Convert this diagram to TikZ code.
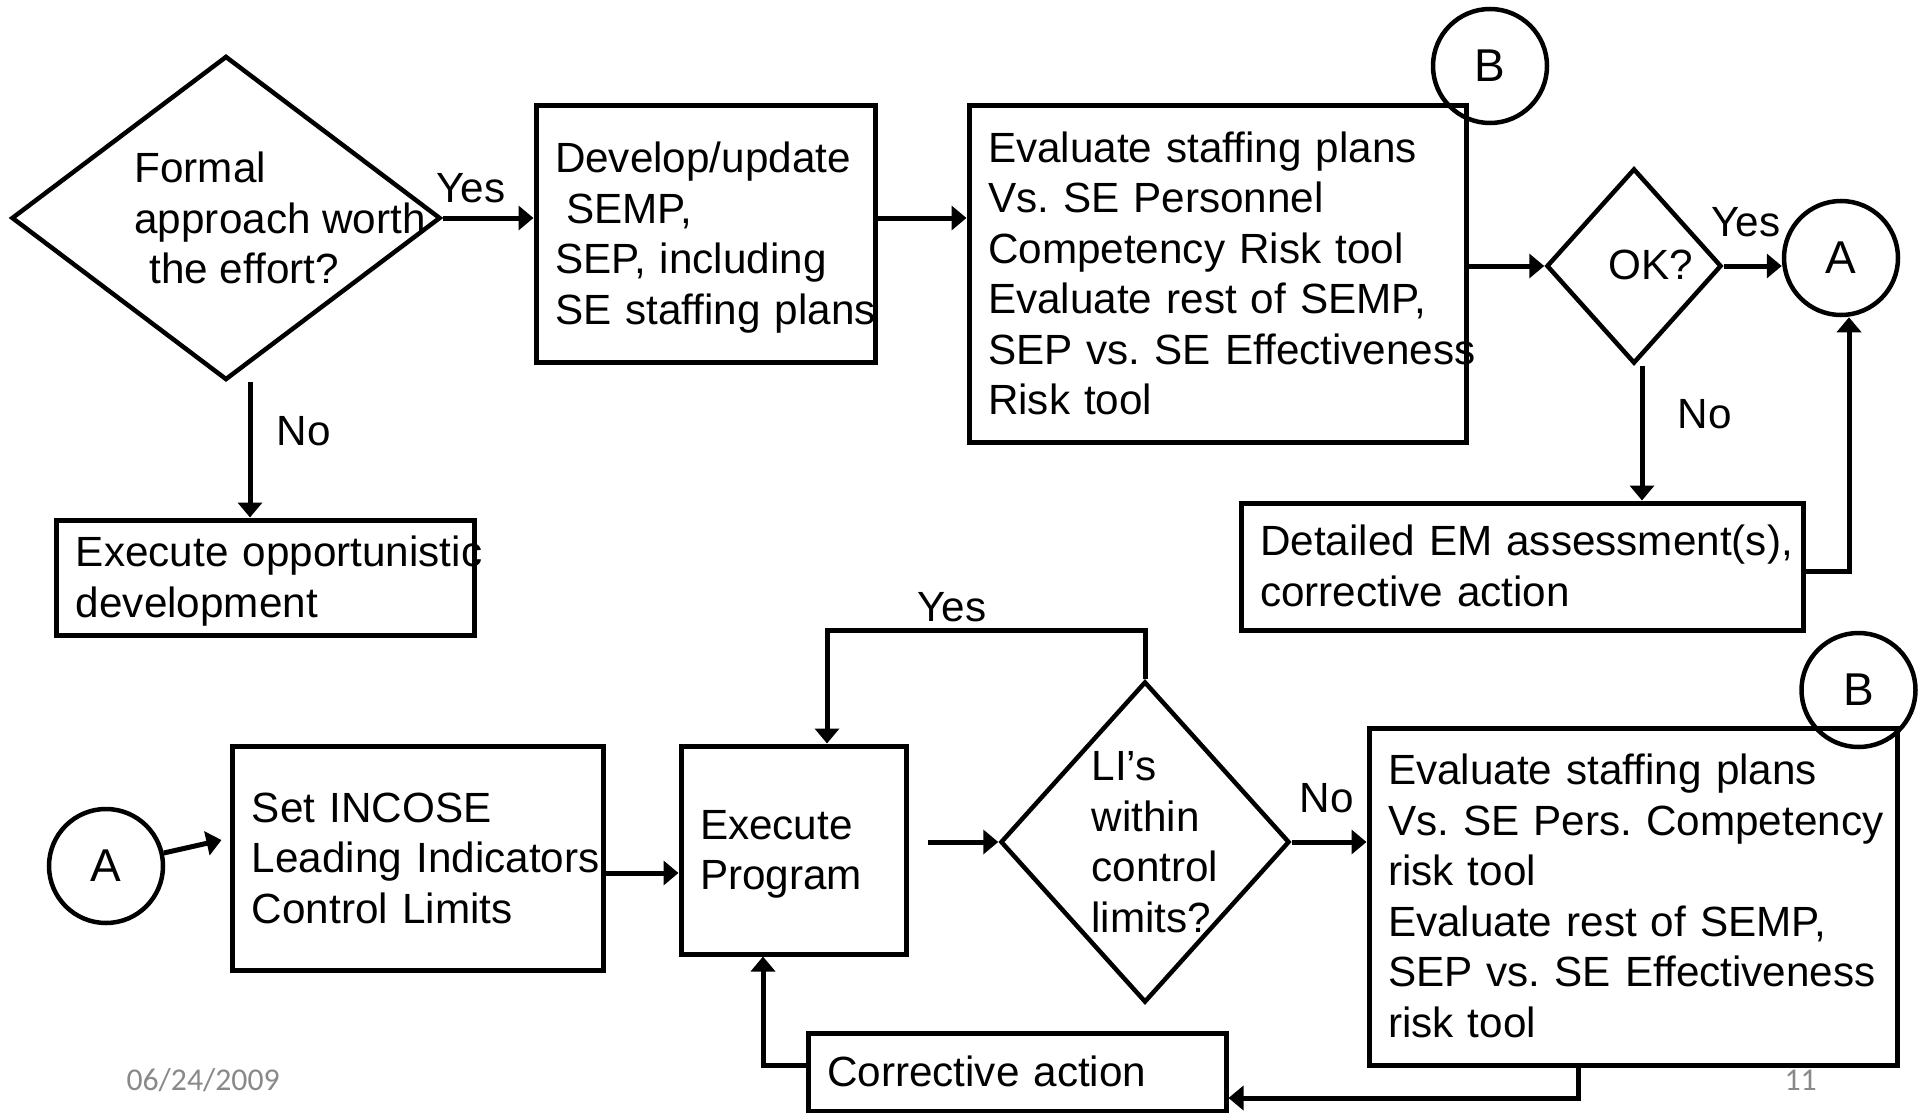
\documentclass[tikz,border=0pt]{standalone}
\usepackage{fontspec}
\setmainfont{Liberation Sans}
\newfontfamily\slidefont{Carlito}
\usetikzlibrary{shapes.geometric,arrows.meta}
\definecolor{footgray}{RGB}{137,137,137}
\frenchspacing
\begin{document}
\begin{tikzpicture}[x=0.4pt,y=-0.4pt,>={Triangle[length=6pt,width=9.6pt]},
  every node/.style={font=\fontsize{16.9pt}{20.2pt}\selectfont},
  box/.style={draw,line width=2pt,inner xsep=7.6pt,inner ysep=0pt,align=left,
    execute at begin node={\hyphenpenalty=10000\exhyphenpenalty=10000\noindent\rule{0pt}{0.905em}},
    execute at end node={\rule[-0.212em]{0pt}{0pt}}},
  decision/.style={diamond,draw,line width=1.8pt,inner sep=0pt},
  conn/.style={circle,draw,line width=1.8pt,inner sep=0pt,minimum size=45.6pt,font=\fontsize{18.4pt}{22pt}\selectfont},
  qtext/.style={inner sep=0pt,align=left,anchor=west},
  lbl/.style={inner sep=0pt,anchor=base west},
  foot/.style={inner sep=0pt,anchor=base west,text=footgray,font=\slidefont\fontsize{12.7pt}{15pt}\selectfont},
  flow/.style={line width=2pt}]
\useasboundingbox (0,0) rectangle (1921,1113);
% top row
\node[decision,minimum width=171.6pt,minimum height=129.6pt] (formal) at (226,218) {};
\node[qtext] (formaltxt) at (134,218) {Formal\\approach worth\\\hspace*{6pt}the effort?};
\node[box,text width=120.4pt,minimum height=102.4pt] (semp) at (705.5,234) {Develop/update\\\hspace*{4.4pt}SEMP,\\SEP, including\\SE~staffing~plans};
\node[box,text width=183.6pt,minimum height=134.4pt] (evalA) at (1217.5,274) {Evaluate staffing plans\\Vs. SE Personnel\\Competency Risk tool\\Evaluate rest of SEMP,\\SEP~vs.~SE~Effectiveness\\Risk tool};
\node[decision,minimum width=70pt,minimum height=78pt] (okq) at (1634,266) {};
\node[qtext] (oktxt) at (1608,265) {OK?};
\node[conn] (circA1) at (1841,258) {A};
\node[conn] (circB1) at (1490,66) {B};
\node[box,text width=209.6pt,minimum height=50.8pt] (em) at (1522,566.5) {Detailed~EM~assessment(s),\\corrective action};
\node[box,text width=151.6pt,minimum height=46pt] (opp) at (265.5,577.5) {Execute~opportunistic\\development};
\draw[flow,->] (formal.east) -- (formal.east -| semp.west);
\node[lbl] (yes1) at (436,202) {Yes};
\draw[flow,->] ([xshift=9.6pt]formal.south) -- ([xshift=9.6pt]formal.south |- opp.north);
\node[lbl] (no1) at (276,445) {No};
\draw[flow,->] (semp.east |- formal.east) -- (evalA.west |- formal.east);
\draw[flow,->] (evalA.east |- okq.west) -- (okq.west);
\draw[flow,->] (okq.east) -- (okq.east -| circA1.west);
\node[lbl] (yes2) at (1711,236) {Yes};
\draw[flow,->] ([xshift=3.2pt]okq.south) -- ([xshift=3.2pt]okq.south |- em.north);
\node[lbl] (no2) at (1677,428) {No};
\draw[flow,->] ([yshift=-1.8pt]em.east) -| ([xshift=3.2pt]circA1.south);
% bottom row
\node[conn] (circA2) at (106,866) {A};
\node[box,text width=132.8pt,minimum height=89.6pt] (incose) at (418,858) {Set INCOSE\\Leading~Indicators\\Control Limits};
\node[box,text width=74.8pt,minimum height=83.2pt] (exec) at (793.5,850) {Execute\\Program};
\node[decision,minimum width=115.6pt,minimum height=128.4pt] (li) at (1145,842) {};
\node[qtext] (litxt) at (1091,842) {LI's\\within\\control\\limits?};
\node[box,text width=196pt,minimum height=134.8pt] (evalB) at (1633,896.5) {Evaluate staffing plans\\Vs.~SE~Pers.~Competency\\risk tool\\Evaluate rest of SEMP,\\SEP~vs.~SE~Effectiveness\\risk tool};
\node[conn] (circB2) at (1858.5,690) {B};
\node[box,text width=152pt,minimum height=31.2pt] (corr) at (1017,1072) {Corrective action};
\draw[flow,->] (circA2) -- ([xshift=-3.6pt,yshift=7.2pt]incose.west);
\draw[flow,->] ([yshift=-6pt]incose.east) -- ([yshift=-6pt]incose.east -| exec.west);
\draw[flow,->] ([xshift=7.6pt]exec.east |- li.west) -- (li.west);
\draw[flow,->] (li.north) -- ++(0,-49) -| ([xshift=13.4pt]exec.north);
\node[lbl] (yes3) at (917,621) {Yes};
\draw[flow,->] (li.east) -- (li.east -| evalB.west);
\node[lbl] (no3) at (1299,812) {No};
\draw[flow,->] ([xshift=-22pt]evalB.south) |- ([yshift=-10.4pt]corr.east);
\draw[flow,->] ([yshift=2.8pt]corr.west) -| ([xshift=-12.2pt]exec.south);
\node[foot] (date) at (126,1090) {06/24/2009};
\node[foot] (pageno) at (1784,1090) {11};
\end{tikzpicture}
\end{document}
